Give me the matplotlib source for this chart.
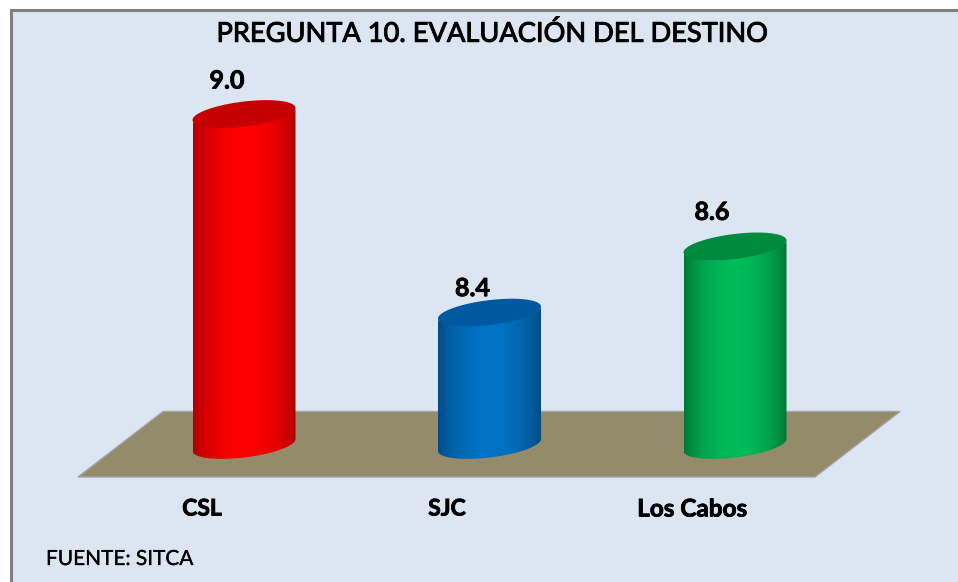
import numpy as np
import matplotlib
matplotlib.use("Agg")
import matplotlib.pyplot as plt
import matplotlib.patheffects as pe
from matplotlib.patches import Polygon, Rectangle
from matplotlib.colors import to_rgb

categories = ["CSL", "SJC", "Los Cabos"]
values = [9.0, 8.4, 8.6]
labels = ["9.0", "8.4", "8.6"]
title = "PREGUNTA 10. EVALUACIÓN DEL DESTINO"
source = "FUENTE: SITCA"
bright = ["#FF0000", "#0074C6", "#00BC58"]
dark = ["#AC0000", "#004A80", "#007434"]
cap = ["#C40000", "#0059A0", "#008A40"]

W, H = 958, 582
PX_X = 245.5   # pixels per category
PX_Y = 331.0   # pixels per value unit
BASE = 8.0
plt.rcParams["font.family"] = ["Lato", "DejaVu Sans"]

fig = plt.figure(figsize=(W / 100, H / 100), dpi=100, facecolor="white")
ax = fig.add_axes([0, 0, 1, 1])

def px(xp, yp):
    return (xp - 244) / PX_X, 9 - (yp - 114) / PX_Y

# panel
x0, y0 = px(11, 10)
x1, y1 = px(W + 5, H + 5)
ax.add_patch(Rectangle((x0, y1), x1 - x0, y0 - y1, fc="#DCE6F2", ec="#808080", lw=2.2, zorder=1))

# floor
floor = [px(78, 477), px(163, 411.5), px(900, 411.5), px(815, 477)]
ax.add_patch(Polygon(floor, closed=True, fc="#948B6B", ec="#A3A3A6", lw=1.0, zorder=2))

half_w = 51.5 / PX_X
tilt = 6.0 / PX_Y
semi = 12.5 / PX_Y

def ellipse(cx, cy, t):
    return cx + half_w * np.cos(t), cy + tilt * np.cos(t) + semi * np.sin(t)

label_dx = [-17, -17, -23]
label_dy = [33, 24, 34]
cat_x = [202, 447, 692]
bold_fx = [pe.withStroke(linewidth=0.6, foreground="black")]

for i, v in enumerate(values):
    t = np.linspace(np.pi, 2 * np.pi, 80)
    xb, yb = ellipse(i, BASE, t)
    xt, yt = ellipse(i, v, t[::-1])
    yt = yt + (4 / PX_Y) * np.sin(t[::-1]) ** 2  # run under the cap, no seam
    verts = np.column_stack([np.r_[xb, xt], np.r_[yb, yt]])
    clip = Polygon(verts, closed=True, transform=ax.transData, fc="none", ec="none")
    ax.add_patch(clip)
    u = np.linspace(0, 1, 256)
    k = np.clip(np.sin(np.pi * np.clip(u * 0.97 + 0.03 * (u > 0.5), 0, 1)) ** 0.7, 0, 1)[:, None]
    grad = (np.array(to_rgb(dark[i])) * (1 - k) + np.array(to_rgb(bright[i])) * k)[None, :, :]
    im = ax.imshow(grad, extent=(i - half_w, i + half_w, BASE - 0.1, v + 0.1),
                   aspect="auto", zorder=3, interpolation="bilinear")
    im.set_clip_path(clip)
    tt = np.linspace(0, 2 * np.pi, 120)
    xc, yc = ellipse(i, v, tt)
    ax.add_patch(Polygon(np.column_stack([xc, yc]), closed=True, fc=cap[i], ec="none", zorder=4))
    ax.text(i + label_dx[i] / PX_X, v + label_dy[i] / PX_Y, labels[i], ha="center", va="center",
            fontsize=18, fontweight="bold", color="black", zorder=5, path_effects=bold_fx)
    ax.text(px(cat_x[i], 0)[0], px(0, 509)[1], categories[i],
            ha="center", va="center", fontsize=16.5 if i < 2 else 17.5, fontweight="bold",
            color="black", zorder=5, path_effects=bold_fx)

ax.set_xlim(-244 / PX_X, (W - 244) / PX_X)
ax.set_ylim(9 - (H - 114) / PX_Y, 9 + 114 / PX_Y)
ax.axis("off")

tx, ty = px(492.5, 34)
ax.text(tx, ty, title, ha="center", va="center", fontsize=19.6, color="black", zorder=5,
        path_effects=[pe.withStroke(linewidth=0.7, foreground="black")])
sx, sy = px(46, 559)
ax.text(sx, sy, source, ha="left", va="center", fontsize=15, color="black", zorder=5,
        path_effects=[pe.withStroke(linewidth=0.2, foreground="black")])

fig.savefig("out.png", dpi=100, facecolor="white")
